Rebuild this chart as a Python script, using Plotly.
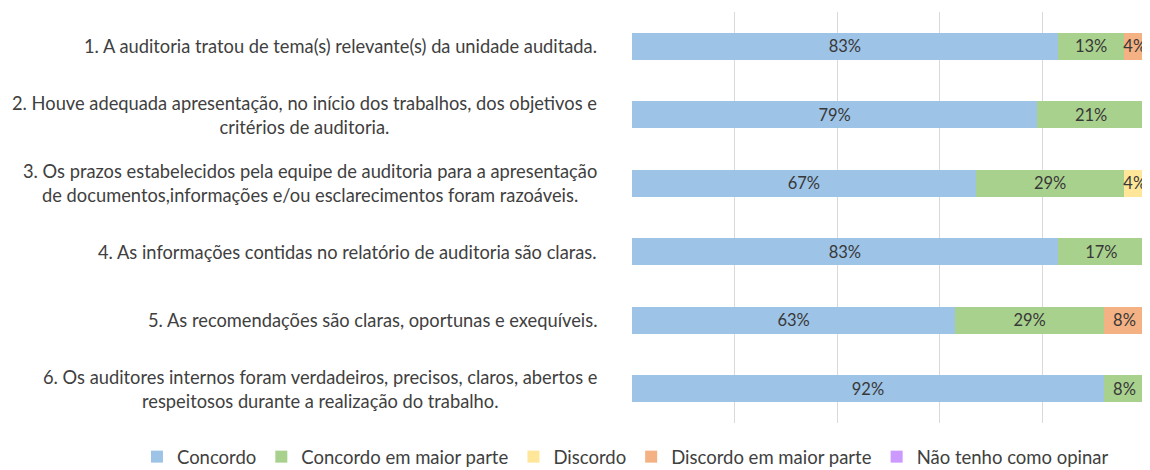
import plotly.graph_objects as go

categories = [
    "1. A auditoria tratou de tema(s) relevante(s) da unidade auditada.",
    "2. Houve adequada apresentação, no início dos trabalhos, dos objetivos e<br>critérios de auditoria.",
    "3. Os prazos estabelecidos pela equipe de auditoria para a apresentação<br>de documentos,informações e/ou esclarecimentos foram razoáveis.",
    "4. As informações contidas no relatório de auditoria são claras.",
    "5. As recomendações são claras, oportunas e exequíveis.",
    "6. Os auditores internos foram verdadeiros, precisos, claros, abertos e<br>respeitosos durante a realização do trabalho.",
]
series_names = ["Concordo", "Concordo em maior parte", "Discordo",
                "Discordo em maior parte", "Não tenho como opinar"]
concordo = [83, 79, 67, 83, 63, 92]
concordo_maior = [13, 21, 29, 17, 29, 8]
discordo = [0, 0, 4, 0, 0, 0]
discordo_maior = [4, 0, 0, 0, 8, 0]
nao_opinar = [0, 0, 0, 0, 0, 0]
series_values = [concordo, concordo_maior, discordo, discordo_maior, nao_opinar]
colors = ["#9DC3E6", "#A9D18E", "#FFE699", "#F4B183", "#CC99FF"]

FONT = "Lato"
TXT = "#404040"
keys = [f"q{i}" for i in range(len(categories))]

fig = go.Figure()
for name, vals, col in zip(series_names, series_values, colors):
    fig.add_trace(go.Bar(
        y=keys, x=vals, name=name, orientation="h",
        marker=dict(color=col, line=dict(width=0)),
        width=0.39,
        text=[f"{v}%" if v else "" for v in vals],
        textposition="inside", insidetextanchor="middle", textangle=0,
        constraintext="none", cliponaxis=False,
        textfont=dict(family=FONT, size=16.5, color="#383838"),
        hoverinfo="skip",
    ))

for k, lab in zip(keys, categories):
    fig.add_annotation(x=0, xref="paper", y=k, yref="y", text=lab,
                       xanchor="right", xshift=-33, align="center",
                       showarrow=False,
                       font=dict(family=FONT, size=18.3, color=TXT))

# page body has an 8px margin, so the figure is sized to fit the window
fig.update_layout(
    barmode="stack",
    width=1142, height=462,
    margin=dict(l=624, r=5, t=4, b=47, autoexpand=False),
    plot_bgcolor="white", paper_bgcolor="white",
    font=dict(family=FONT, size=16, color=TXT),
    showlegend=True,
    legend=dict(orientation="h", x=-0.965, xanchor="left",
                y=-0.083, yanchor="middle",
                font=dict(family=FONT, size=18.5, color=TXT),
                traceorder="normal", itemwidth=30),
    xaxis=dict(range=[0, 100], dtick=20, showgrid=True, gridcolor="#D9D9D9",
               gridwidth=1, showticklabels=False, zeroline=False,
               showline=False, ticks=""),
    yaxis=dict(autorange="reversed", showticklabels=False, showgrid=False,
               zeroline=False, showline=False, ticks=""),
)

fig.write_html("out.html")
